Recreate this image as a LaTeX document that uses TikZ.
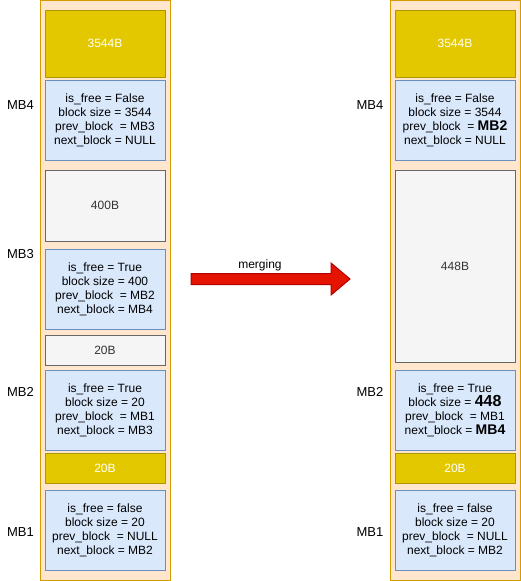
\documentclass[tikz,border=0pt]{standalone}
\usepackage{fontspec}
\setmainfont{Liberation Sans}
\usetikzlibrary{positioning}
\definecolor{heapfill}{HTML}{FFE6CC}
\definecolor{heapline}{HTML}{D79B00}
\definecolor{usedfill}{HTML}{E3C800}
\definecolor{usedline}{HTML}{B09500}
\definecolor{freefill}{HTML}{F5F5F5}
\definecolor{freeline}{HTML}{666666}
\definecolor{freetext}{HTML}{333333}
\definecolor{metafill}{HTML}{DAE8FC}
\definecolor{metaline}{HTML}{6C8EBF}
\definecolor{arrowfill}{HTML}{E51400}
\definecolor{arrowline}{HTML}{B20000}
\newcommand{\chg}[2]{{\bfseries\fontsize{#1}{14}\selectfont #2}}
\begin{document}
\begin{tikzpicture}[x=1pt, y=-1pt,
every node/.style={font=\fontsize{12}{14}\selectfont, align=center, inner sep=0pt},
heap/.style={draw=heapline, fill=heapfill, line width=1pt, minimum width=130pt, minimum height=579.5pt},
blk/.style={line width=1pt, minimum width=120pt},
used/.style={blk, draw=usedline, fill=usedfill, text=white},
free/.style={blk, draw=freeline, fill=freefill, text=freetext},
meta/.style={blk, draw=metaline, fill=metafill, minimum height=80pt},
tag/.style={font=\fontsize{13}{14}\selectfont}]
\useasboundingbox (0,0) rectangle (521,581);
% before
\node[heap] (heapL) at (105,290.25) {};
\node[used, minimum height=67pt] (dataL4) at (105,43.5) {3544B};
\node[meta] (mbL4) at (105,120) {is\_free = False\\block size = 3544\\prev\_block~ = MB3\\next\_block = NULL};
\node[free, minimum height=71pt] (dataL3) at (105,205.5) {400B};
\node[meta] (mbL3) at (105,289) {is\_free = True\\block size = 400\\prev\_block~ = MB2\\next\_block = MB4};
\node[free, minimum height=30pt] (dataL2) at (105,350) {20B};
\node[meta] (mbL2) at (105,410) {is\_free = True\\block size = 20\\prev\_block~ = MB1\\next\_block = MB3};
\node[used, minimum height=30pt] (dataL1) at (105,468) {20B};
\node[meta] (mbL1) at (105,530) {is\_free = false\\block size = 20\\prev\_block~ = NULL\\next\_block = MB2};
\node[tag] (tagL4) at (20.5,105) {MB4};
\node[tag] (tagL3) at (20.5,254) {MB3};
\node[tag] (tagL2) at (20.5,392) {MB2};
\node[tag] (tagL1) at (20.5,532) {MB1};
% after
\node[heap] (heapR) at (455,290.25) {};
\node[used, minimum height=67pt] (dataR4) at (455,43.5) {3544B};
\node[meta] (mbR4) at (455,120) {is\_free = False\\block size = 3544\\prev\_block~ = \chg{14}{MB2}\\next\_block = NULL};
\node[free, minimum height=192pt] (dataR2) at (455,266) {448B};
\node[meta] (mbR2) at (455,410) {is\_free = True\\block size = \chg{16}{448}\\prev\_block~ = MB1\\next\_block = \chg{14}{MB4}};
\node[used, minimum height=30pt] (dataR1) at (455,468) {20B};
\node[meta] (mbR1) at (455,530) {is\_free = false\\block size = 20\\prev\_block~ = NULL\\next\_block = MB2};
\node[tag] (tagR4) at (370,105) {MB4};
\node[tag] (tagR2) at (370,392) {MB2};
\node[tag] (tagR1) at (370,532) {MB1};
% merge arrow
\draw[fill=arrowfill, draw=arrowline, line width=1pt] (191,273.5) -- (331,273.5) -- (331,263) -- (350,279)
  -- (331,295) -- (331,284.5) -- (191,284.5) -- cycle;
\node (merge) at (260,265) {merging};
\end{tikzpicture}
\end{document}
